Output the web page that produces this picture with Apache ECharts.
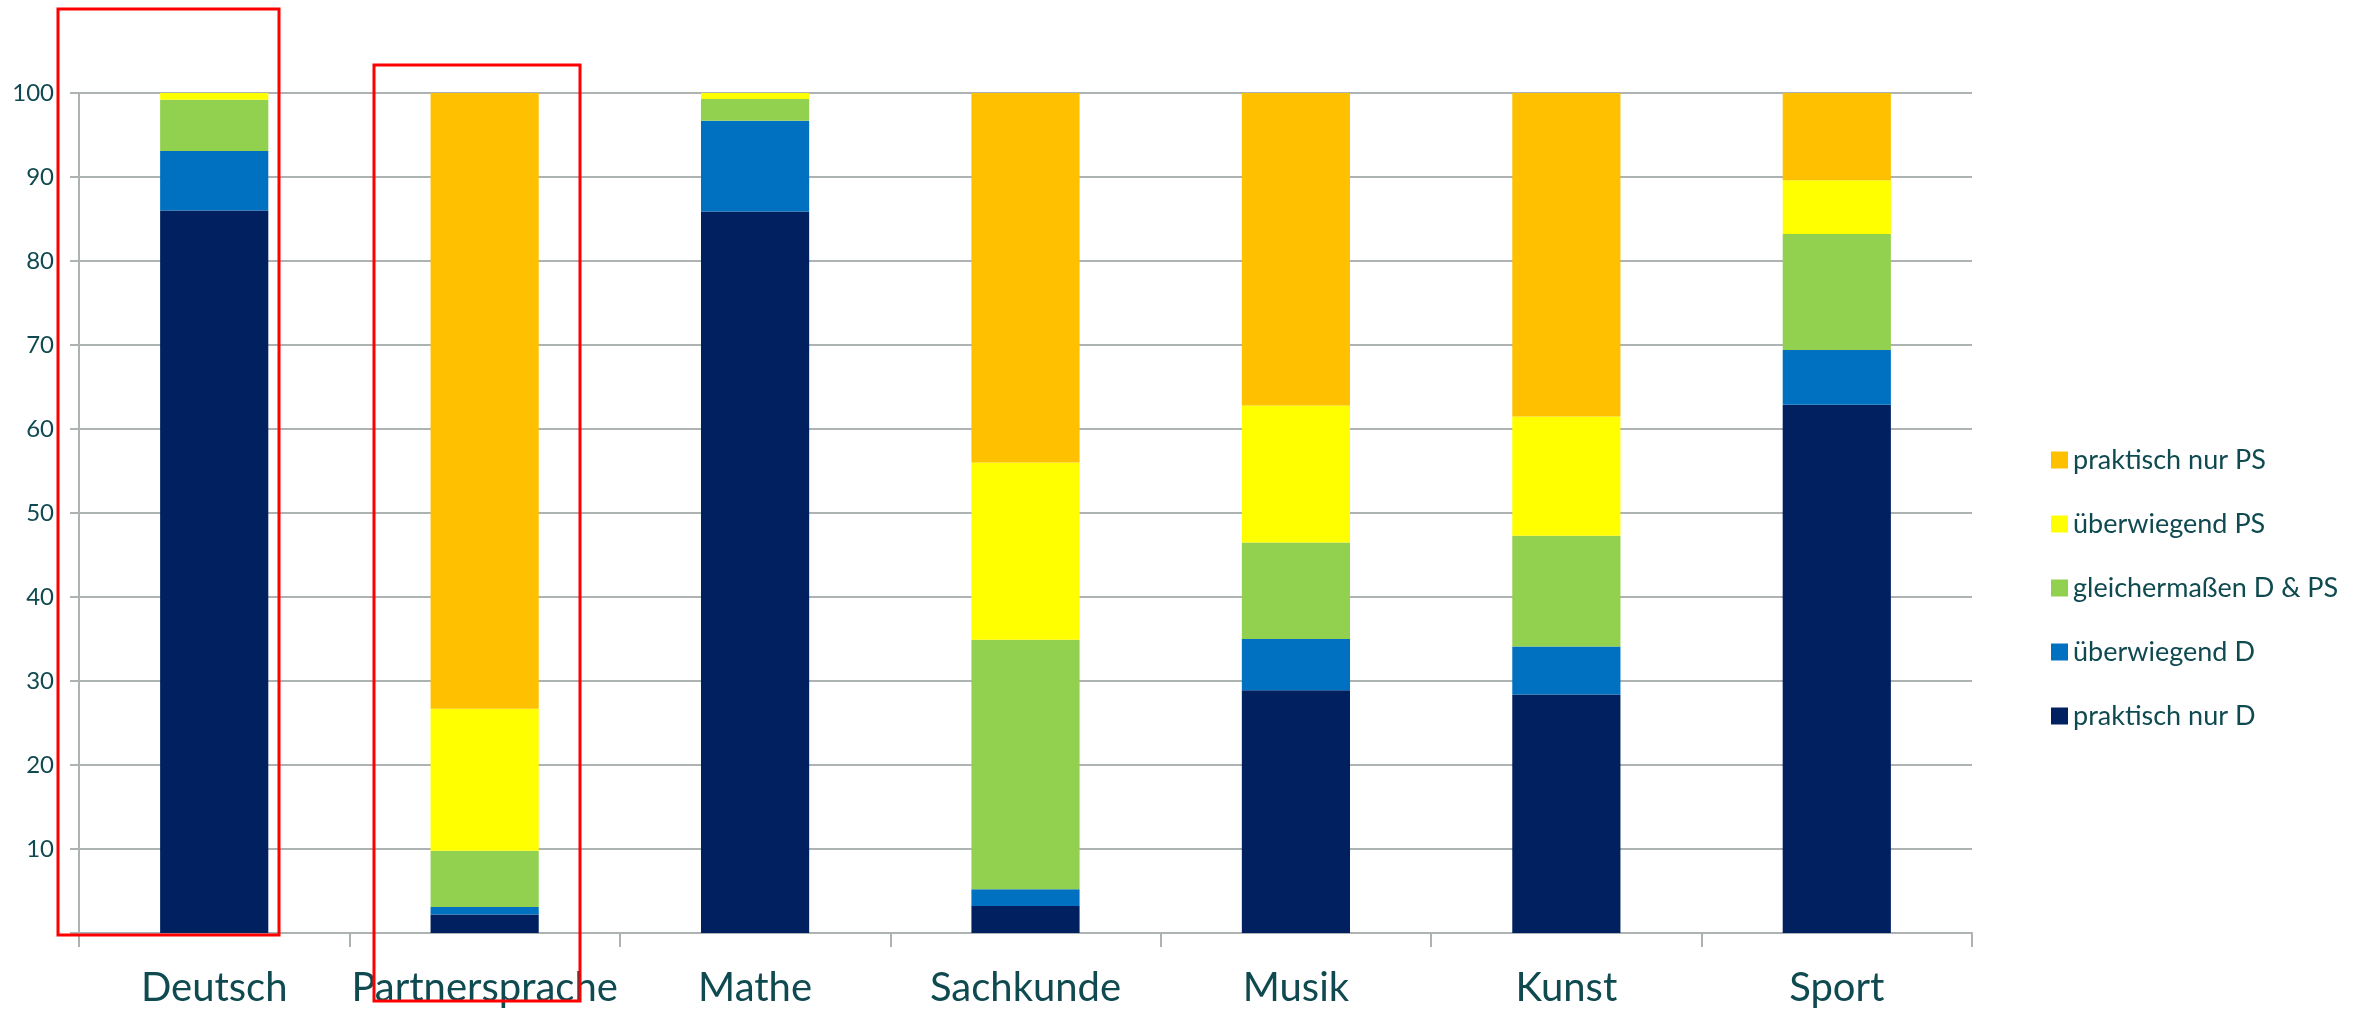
<!DOCTYPE html>
<html>
<head>
<meta charset="utf-8">
<script src="https://cdn.jsdelivr.net/npm/echarts@6/dist/echarts.min.js"></script>
<style>
html,body{margin:0;padding:0;background:#fff;}
#chart{width:2359px;height:1010px;}
</style>
</head>
<body>
<div id="chart"></div>
<script>
const categories = ['Deutsch', 'Partnersprache', 'Mathe', 'Sachkunde', 'Musik', 'Kunst', 'Sport'];
const seriesNames = ['praktisch nur D', 'überwiegend D', 'gleichermaßen D & PS', 'überwiegend PS', 'praktisch nur PS'];
const praktischNurD   = [86.0, 2.2, 85.9, 3.2, 28.9, 28.4, 62.9];
const ueberwiegendD   = [7.1, 0.9, 10.8, 2.0, 6.1, 5.7, 6.5];
const gleichermassen  = [6.1, 6.7, 2.6, 29.7, 11.5, 13.2, 13.8];
const ueberwiegendPS  = [0.8, 16.9, 0.7, 21.1, 16.3, 14.2, 6.4];
const praktischNurPS  = [0.0, 73.3, 0.0, 44.0, 37.2, 38.5, 10.4];
const yTicks = [0, 10, 20, 30, 40, 50, 60, 70, 80, 90, 100];

const colors = ['#002060', '#0070c0', '#92d050', '#ffff00', '#ffc000'];
const values = [praktischNurD, ueberwiegendD, gleichermassen, ueberwiegendPS, praktischNurPS];
const textColor = '#0f4a50';
const gridColor = '#adb2b2';
const fontFamily = 'Lato, "Noto Sans", sans-serif';

const chart = echarts.init(document.getElementById('chart'), null, {renderer: 'canvas'});

const series = seriesNames.map((name, i) => ({
  name: name,
  type: 'bar',
  stack: 'total',
  data: values[i],
  barWidth: '40%',
  itemStyle: {color: colors[i]},
  emphasis: {disabled: true},
  animation: false
}));

chart.setOption({
  animation: false,
  backgroundColor: '#ffffff',
  textStyle: {fontFamily: fontFamily},
  grid: {left: 79, right: 2359 - 1972, top: 93, bottom: 1010 - 933, containLabel: false},
  legend: {
    orient: 'vertical',
    left: 2046,
    top: 441,
    itemWidth: 17,
    itemHeight: 17,
    itemGap: 36,
    icon: 'rect',
    data: ['praktisch nur PS', 'überwiegend PS', 'gleichermaßen D & PS', 'überwiegend D', 'praktisch nur D'],
    textStyle: {color: textColor, fontSize: 27, lineHeight: 28, fontFamily: fontFamily}
  },
  xAxis: {
    type: 'category',
    data: categories,
    boundaryGap: true,
    axisLine: {show: true, lineStyle: {color: gridColor, width: 2}},
    axisTick: {show: true, interval: 0, length: 14, lineStyle: {color: gridColor, width: 2}},
    axisLabel: {color: textColor, fontSize: 40, margin: 35, interval: 0, hideOverlap: false, fontFamily: fontFamily},
    splitLine: {show: false}
  },
  yAxis: {
    type: 'value',
    min: yTicks[0],
    max: yTicks[yTicks.length - 1],
    interval: yTicks[1] - yTicks[0],
    axisLine: {show: true, lineStyle: {color: gridColor, width: 2}},
    axisTick: {show: true, length: 9, lineStyle: {color: gridColor, width: 2}},
    axisLabel: {
      color: textColor, fontSize: 24, margin: 25, fontFamily: fontFamily,
      formatter: v => (v === 0 ? '' : String(v))
    },
    splitLine: {show: true, lineStyle: {color: gridColor, width: 2}}
  },
  series: series,
  graphic: [
    {type: 'rect', z: 100, silent: true,
     shape: {x: 58, y: 9, width: 221, height: 926},
     style: {fill: 'none', stroke: '#ff0000', lineWidth: 3}},
    {type: 'rect', z: 100, silent: true,
     shape: {x: 374, y: 65, width: 206, height: 936},
     style: {fill: 'none', stroke: '#ff0000', lineWidth: 3}}
  ]
});
</script>
</body>
</html>
